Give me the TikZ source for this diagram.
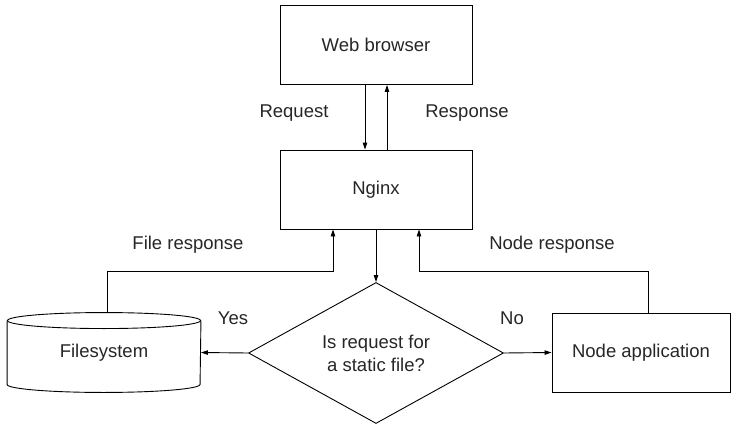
\documentclass[tikz,border=0pt]{standalone}
\usepackage{fontspec}
\setmainfont{Liberation Sans}
\usetikzlibrary{arrows.meta, positioning, shapes.geometric}

\begin{document}
\begin{tikzpicture}[
    x=1pt, y=-1pt,
    >={Triangle[length=7pt,width=4.5pt]},
    font=\fontsize{18.5}{23}\selectfont,
    line width=0.9pt,
    text=black!85,
    box/.style={
        draw,
        minimum width=192pt,
        minimum height=79pt,
        inner sep=0pt
    },
    store/.style={
        minimum width=193pt,
        minimum height=79pt,
        inner sep=0pt
    },
    decision/.style={
        draw,
        diamond,
        aspect=1.81,
        minimum width=255pt,
        minimum height=141pt,
        inner sep=0pt,
        align=center
    },
    lbl/.style={inner sep=1pt}
]
\useasboundingbox (0,0) rectangle (733,425);

\node[box] (browser) at (376,45) {Web browser};
\node[box] (nginx) at (376,189.5) {Nginx};
\node[decision] (static) at (376,353) {Is request for\\a static file?};
\node[store] (fs) at (104,352.5) {Filesystem};
\node[box, minimum width=178pt] (nodeapp) at (641,352.5) {Node application};

% disk outline round the filesystem node
\draw ([yshift=-8pt]fs.north) ellipse [x radius=96.5pt, y radius=8pt];
\draw ([yshift=-8pt]fs.north west) -- ([yshift=8pt]fs.south west)
    arc [start angle=180, end angle=360, x radius=96.5pt, y radius=8pt]
    -- ([yshift=-8pt]fs.north east);

\node[lbl] (request) at (294,113) {Request};
\node[lbl] (response) at (467,113) {Response};
\node[lbl] (fileresp) at (188,245) {File response};
\node[lbl] (noderesp) at (552,245) {Node response};
\node[lbl] (yes) at (233,318) {Yes};
\node[lbl] (no) at (512,318) {No};

\draw[->] ([xshift=-11pt]browser.south) -- ([xshift=-11pt]nginx.north);
\draw[->] ([xshift=11pt]nginx.north) -- ([xshift=11pt]browser.south);
\draw[->] (nginx.south) -- (static.north);
\draw[->] (static.west) -- (fs.east);
\draw[->] (static.east) -- (nodeapp.west);
% answers travel back up to nginx
\draw[->] ([xshift=3pt]fs.north) -- ++(0,-41) -| ([xshift=-43pt]nginx.south);
\draw[->] ([xshift=7pt]nodeapp.north) -- ++(0,-41) -| ([xshift=43pt]nginx.south);

\end{tikzpicture}
\end{document}
